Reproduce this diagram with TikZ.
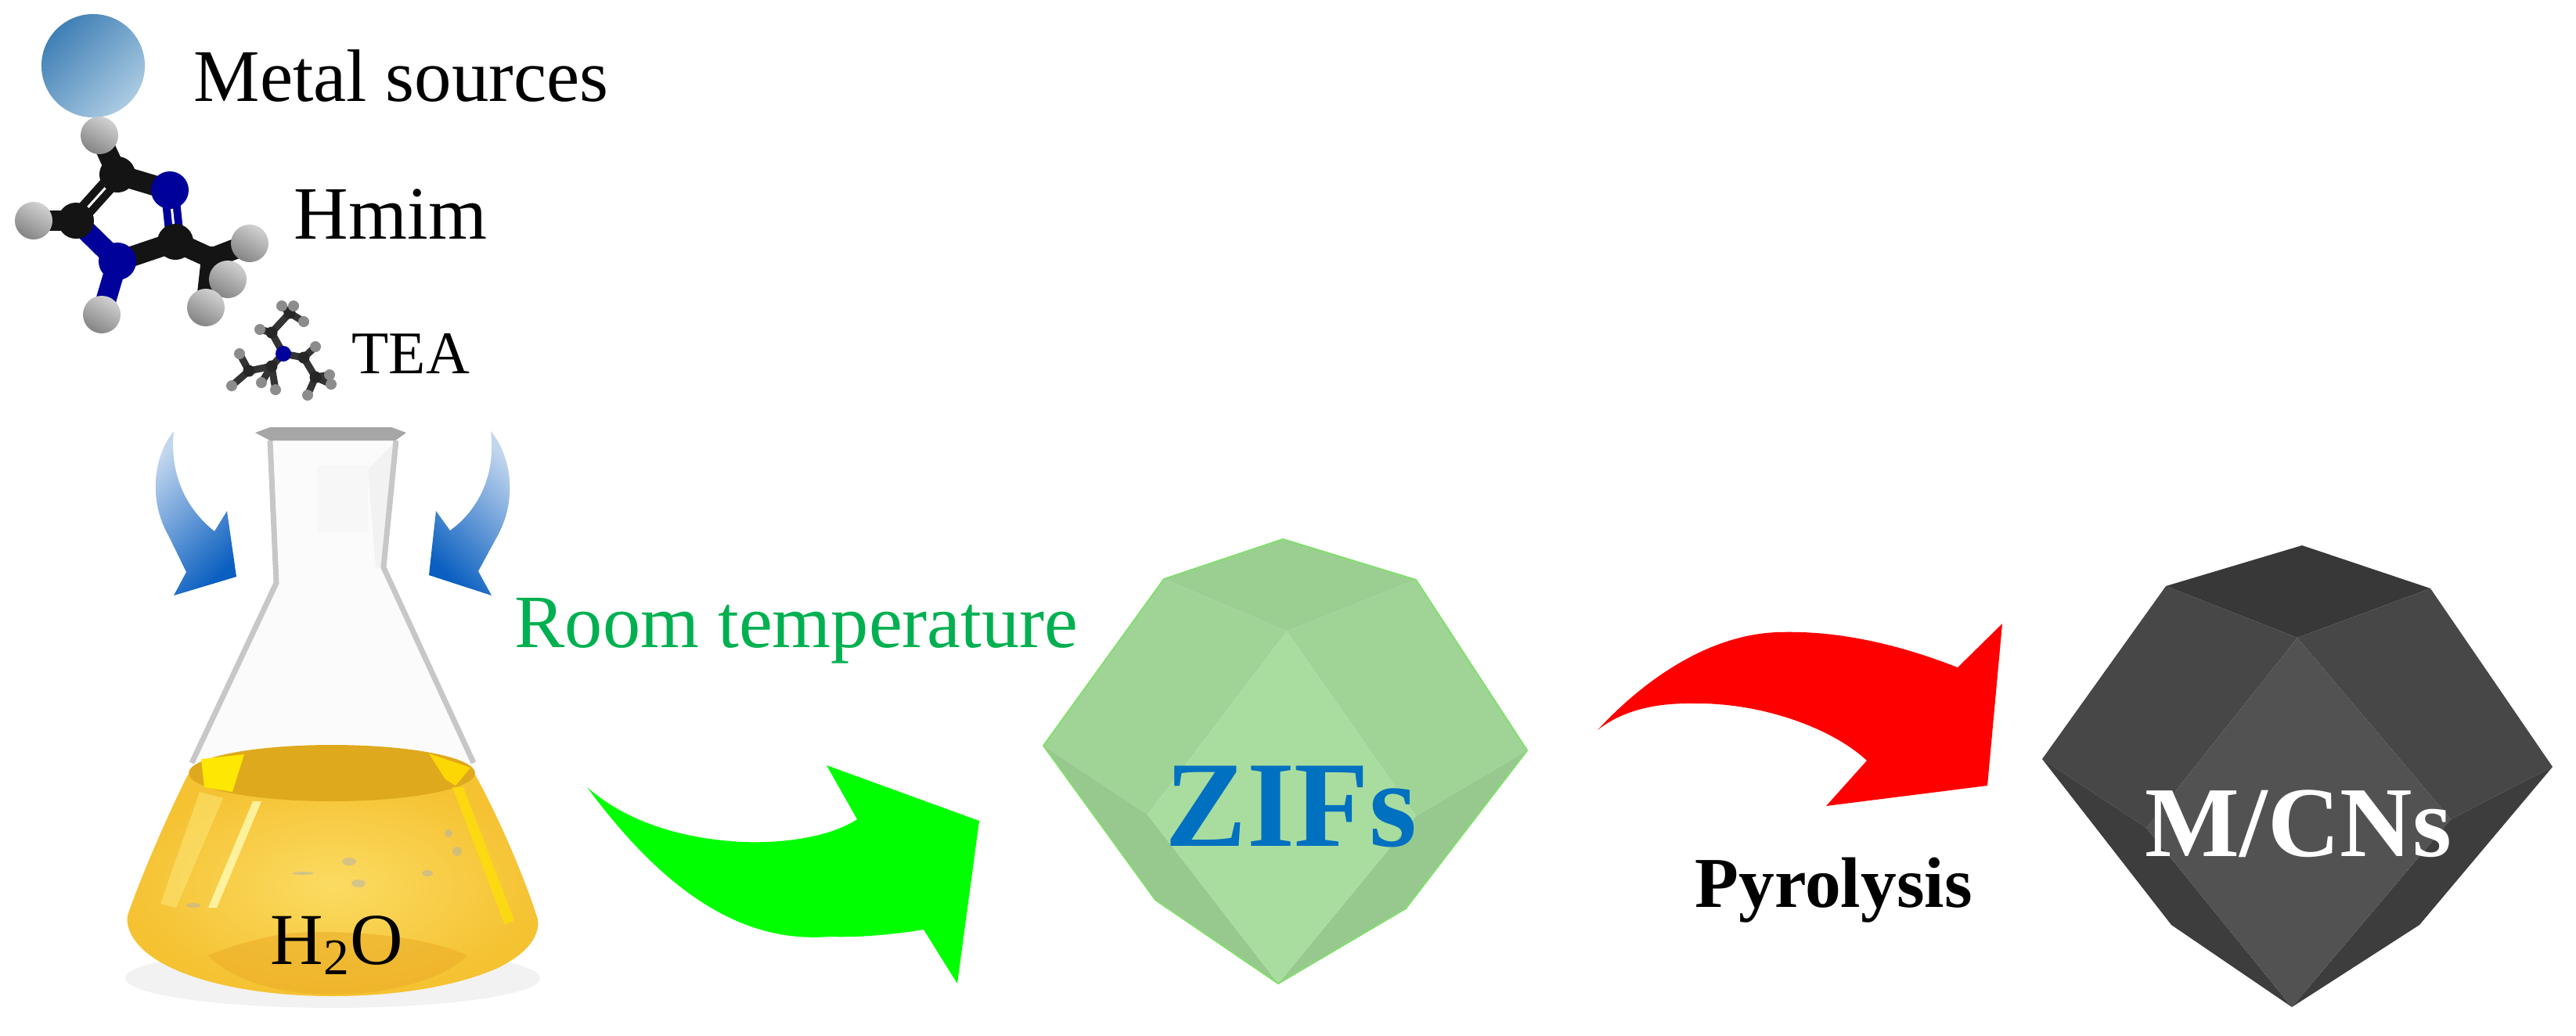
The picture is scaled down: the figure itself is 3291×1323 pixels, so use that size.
\documentclass[tikz,border=0pt]{standalone}
\usepackage{fontspec}
\setmainfont{Liberation Serif}
\usetikzlibrary{positioning,arrows,backgrounds}
\definecolor{roomgreen}{HTML}{00B050}
\definecolor{zifblue}{HTML}{0070C0}
\definecolor{nblue}{HTML}{00009A}
\definecolor{balldark}{HTML}{3F7FB5}
\definecolor{ballmid}{HTML}{5C9BD0}
\definecolor{balllight}{HTML}{ABCBE2}
\definecolor{arrowlight}{HTML}{C2D6EE}
\definecolor{arrowmid}{HTML}{7FA8DC}
\definecolor{arrowdark}{HTML}{0A5FC0}
\definecolor{liqedge}{HTML}{F5C232}
\definecolor{liqmid}{HTML}{FBDB62}
\definecolor{liqlow}{HTML}{ECAE28}
\definecolor{liqtop}{HTML}{DFA91E}
\definecolor{ziftop}{HTML}{9BCF92}
\definecolor{zifside}{HTML}{A0D497}
\definecolor{ziflow}{HTML}{97C98E}
\definecolor{zifmid}{HTML}{A9DD9F}
\definecolor{zifedge}{HTML}{84DE70}

\begin{document}
\begin{tikzpicture}[x=0.01cm,y=-0.01cm,
		every node/.style={inner sep=0pt},
		lbl/.style={anchor=base west,font=\fontsize{#1}{#1}\selectfont},
		boldlbl/.style={anchor=base west,font=\fontsize{#1}{#1}\selectfont\bfseries},
		hatom/.style={circle,minimum size=0.48cm,top color=black!18,bottom color=black!48,shading angle=-30},
		catom/.style={circle,minimum size=0.46cm,fill=black!92},
		natom/.style={circle,minimum size=0.48cm,fill=nblue},
		bond/.style={line width=0.26cm,black!92},
		dbond/.style={line width=0.1cm,double=white,double distance=0.03cm},
		thin hatom/.style={circle,minimum size=0.14cm,fill=black!45},
		thin catom/.style={circle,minimum size=0.15cm,fill=black!85},
		thin bond/.style={line width=0.09cm,black!80}]
			\useasboundingbox (0,0) rectangle (3291,1323);

			\node [circle,minimum size=1.32cm,top color=balldark,middle color=ballmid,bottom color=balllight,shading angle=45] (metal) at (119,84) {};
			\node [lbl=27] (metaltxt) at (247,129) {Metal sources};

			\node [catom] (c1) at (150,223) {};
			\node [natom] (n1) at (217,243) {};
			\node [catom] (c2) at (224,309) {};
			\node [natom] (n2) at (150,334) {};
			\node [catom] (c3) at (97,282) {};
			\node [catom,minimum size=0.3cm] (c4) at (270,330) {};
			\node [hatom] (h1) at (127,173) {};
			\node [hatom] (h2) at (43,282) {};
			\node [hatom] (h3) at (130,402) {};
			\node [hatom] (h4) at (319,311) {};
			\node [hatom] (h5) at (291,357) {};
			\node [hatom] (h6) at (263,393) {};
			\begin{scope}[on background layer]
				\draw[bond] (c1.center) -- (h1.center);
				\draw[bond] (c3.center) -- (h2.center);
				\draw[bond,nblue] (n2.center) -- (h3.center);
				\draw[bond] (c4.center) -- (h4.center);
				\draw[bond] (c4.center) -- (h5.center);
				\draw[bond] (c4.center) -- (h6.center);
				\draw[bond] (c2.center) -- (c4.center);
				\draw[bond] (c1.center) -- (n1.center);
				\draw[bond] (c2.center) -- (n2.center);
				\draw[bond,nblue] (n2.center) -- (c3.center);
				\draw[dbond,black!92] (c1.center) -- (c3.center);
				\draw[dbond,nblue] (n1.center) -- (c2.center);
			\end{scope}
			\node [lbl=27.4] (hmimtxt) at (375,305) {Hmim};

			\node [circle,minimum size=0.2cm,fill=nblue] (tn) at (362,452) {};
			\node [thin catom] (ta1) at (347,425) {};
			\node [thin catom] (ta2) at (370,400) {};
			\node [thin catom] (tb1) at (347,468) {};
			\node [thin catom] (tb2) at (318,474) {};
			\node [thin catom] (td1) at (388,457) {};
			\node [thin catom] (td2) at (403,482) {};
			\node [thin hatom] (th1) at (360,391) {};
			\node [thin hatom] (th2) at (375,391) {};
			\node [thin hatom] (th3) at (388,411) {};
			\node [thin hatom] (th4) at (332,421) {};
			\node [thin hatom] (th5) at (306,452) {};
			\node [thin hatom] (th6) at (296,493) {};
			\node [thin hatom] (th7) at (334,489) {};
			\node [thin hatom] (th8) at (352,498) {};
			\node [thin hatom] (th9) at (403,443) {};
			\node [thin hatom] (th10) at (421,479) {};
			\node [thin hatom] (th11) at (393,505) {};
			\node [thin hatom] (th12) at (423,491) {};
			\begin{scope}[on background layer]
				\draw[thin bond] (tn.center) -- (ta1.center);
				\draw[thin bond] (ta1.center) -- (ta2.center);
				\draw[thin bond] (tn.center) -- (tb1.center);
				\draw[thin bond] (tb1.center) -- (tb2.center);
				\draw[thin bond] (tn.center) -- (td1.center);
				\draw[thin bond] (td1.center) -- (td2.center);
				\draw[thin bond] (ta2.center) -- (th1.center);
				\draw[thin bond] (ta2.center) -- (th2.center);
				\draw[thin bond] (ta2.center) -- (th3.center);
				\draw[thin bond] (ta1.center) -- (th4.center);
				\draw[thin bond] (tb2.center) -- (th5.center);
				\draw[thin bond] (tb2.center) -- (th6.center);
				\draw[thin bond] (tb1.center) -- (th7.center);
				\draw[thin bond] (tb1.center) -- (th8.center);
				\draw[thin bond] (td1.center) -- (th9.center);
				\draw[thin bond] (td2.center) -- (th10.center);
				\draw[thin bond] (td2.center) -- (th11.center);
				\draw[thin bond] (td2.center) -- (th12.center);
			\end{scope}
			\node [lbl=22] (teatxt) at (449,477) {TEA};

			\shade[top color=arrowlight,middle color=arrowmid,bottom color=arrowdark,shading angle=45] (222,551) .. controls (195,585) and (190,640) .. (215,684) -- (238,731) -- (222,761) -- (302,737) -- (290,653) -- (274,679) .. controls (250,660) and (215,620) .. (222,551) -- cycle;
			\shade[top color=arrowlight,middle color=arrowmid,bottom color=arrowdark,shading angle=-45] (627,551) .. controls (655,585) and (660,640) .. (636,684) -- (611,730) -- (628,761) -- (548,735) -- (557,653) -- (575,678) .. controls (600,660) and (635,620) .. (627,551) -- cycle;

			\fill[black!5] (425,1250) ellipse [x radius=265,y radius=38];
			\fill[black!1.5] (345,563) -- (353,745) -- (245,975) -- (605,975) -- (490,725) -- (506,563) -- cycle;
			\fill[black!5] (470,600) -- (506,563) -- (490,725) -- (480,725) -- cycle;
			\fill[black!3] (405,595) rectangle (470,680);
			\draw[black!22,line width=0.07cm] (345,563) -- (353,745) -- (245,975);
			\draw[black!22,line width=0.07cm] (506,563) -- (490,725) -- (605,975);
			\shade[left color=black!35,middle color=black!6,right color=black!35] (326,553) -- (345,546) -- (500,546) -- (519,553) -- (505,563) -- (345,563) -- cycle;

			\shade[inner color=liqmid,outer color=liqedge] (240,990) .. controls (215,1040) and (180,1120) .. (163,1170) .. controls (160,1190) and (175,1215) .. (215,1235) .. controls (270,1262) and (350,1273) .. (425,1273) .. controls (500,1273) and (580,1262) .. (636,1237) .. controls (675,1218) and (690,1195) .. (687,1175) .. controls (670,1120) and (635,1040) .. (607,990) -- cycle;
			\fill[liqlow,opacity=.6] (265,1221) .. controls (320,1200) and (360,1191) .. (406,1191) .. controls (480,1191) and (550,1200) .. (597,1221) .. controls (560,1258) and (480,1271) .. (425,1271) .. controls (360,1271) and (300,1255) .. (265,1221) -- cycle;
			\fill[liqtop] (424,988) ellipse [x radius=183,y radius=36];
			\fill[yellow!90!orange] (257,970) -- (312,964) -- (297,1012) -- (261,1006) -- cycle;
			\fill[yellow!75!orange] (548,963) -- (601,981) -- (582,1004) -- (569,996) -- cycle;
			\fill[yellow!30!white,opacity=.8] (323,1024) -- (334,1024) -- (277,1160) -- (266,1160) -- cycle;
			\fill[yellow!40!white,opacity=.35] (255,1012) -- (285,1020) -- (225,1160) -- (205,1155) -- cycle;
			\fill[yellow!85!orange,opacity=.7] (578,1006) -- (592,1006) -- (657,1176) -- (645,1182) -- cycle;
			\fill[black!30,opacity=.5] (446,1101) ellipse [x radius=9,y radius=5];
			\fill[black!30,opacity=.5] (458,1129) ellipse [x radius=9,y radius=5];
			\fill[black!30,opacity=.5] (546,1116) ellipse [x radius=7,y radius=4];
			\fill[black!30,opacity=.5] (584,1088) ellipse [x radius=6,y radius=6];
			\fill[black!30,opacity=.5] (573,1065) ellipse [x radius=5,y radius=5];
			\fill[black!30,opacity=.5] (247,1157) ellipse [x radius=9,y radius=3];
			\fill[black!30,opacity=.5] (387,1116) ellipse [x radius=14,y radius=2];
			\node [lbl=26.6] (watertxt) at (345,1232) {H\textsubscript{2}O};

			\node [lbl=27.4,text=roomgreen] (roomtxt) at (657,827) {Room temperature};
			\fill[green] (750,1006) .. controls (800,1050) and (870,1072) .. (949,1076) .. controls (1000,1078) and (1060,1070) .. (1095,1047) -- (1056,978) -- (1251,1049) -- (1223,1257) -- (1180,1188) .. controls (1130,1196) and (1090,1198) .. (1060,1197) .. controls (960,1205) and (860,1155) .. (750,1006) -- cycle;

			\coordinate (zt) at (1639,689);
			\coordinate (zur) at (1809,741);
			\coordinate (zul) at (1487,740);
			\coordinate (zl) at (1333,953);
			\coordinate (zr) at (1951,959);
			\coordinate (zll) at (1476,1150);
			\coordinate (zlr) at (1796,1161);
			\coordinate (zb) at (1633,1257);
			\coordinate (zc) at (1644,807);
			\coordinate (zdl) at (1466,1041);
			\coordinate (zdr) at (1809,1043);
			\fill[ziftop] (zt) -- (zur) -- (zc) -- (zul) -- cycle;
			\fill[zifside] (zul) -- (zc) -- (zdl) -- (zl) -- cycle;
			\fill[zifside] (zur) -- (zc) -- (zdr) -- (zr) -- cycle;
			\fill[ziflow] (zl) -- (zdl) -- (zb) -- (zll) -- cycle;
			\fill[ziflow] (zr) -- (zdr) -- (zb) -- (zlr) -- cycle;
			\fill[zifmid] (zc) -- (zdr) -- (zb) -- (zdl) -- cycle;
			\draw[zifedge,line width=0.02cm] (zt) -- (zur) -- (zr) -- (zlr) -- (zb) -- (zll) -- (zl) -- (zul) -- cycle;
			\node [boldlbl=44.5,text=zifblue] (ziftxt) at (1488,1081) {ZIFs};

			\fill[red] (2041,933) .. controls (2085,885) and (2170,812) .. (2270,808) .. controls (2350,805) and (2430,825) .. (2501,853) -- (2558,797) -- (2539,1004) -- (2333,1030) -- (2385,972) .. controls (2340,930) and (2250,898) .. (2165,899) .. controls (2110,898) and (2070,910) .. (2041,933) -- cycle;
			\node [boldlbl=26] (pyrotxt) at (2165,1159) {Pyrolysis};

			\coordinate (mt) at (2941,697);
			\coordinate (mur) at (3105,752);
			\coordinate (mul) at (2767,749);
			\coordinate (ml) at (2609,970);
			\coordinate (mr) at (3261,980);
			\coordinate (mll) at (2774,1182);
			\coordinate (mlr) at (3091,1182);
			\coordinate (mb) at (2928,1287);
			\coordinate (mc) at (2935,815);
			\coordinate (mdl) at (2742,1058);
			\coordinate (mdr) at (3131,1047);
			\fill[black!78] (mt) -- (mur) -- (mc) -- (mul) -- cycle;
			\fill[black!72] (mul) -- (mc) -- (mdl) -- (ml) -- cycle;
			\fill[black!72] (mur) -- (mc) -- (mdr) -- (mr) -- cycle;
			\fill[black!76] (ml) -- (mdl) -- (mb) -- (mll) -- cycle;
			\fill[black!76] (mr) -- (mdr) -- (mb) -- (mlr) -- cycle;
			\fill[black!68] (mc) -- (mdr) -- (mb) -- (mdl) -- cycle;
			\node [boldlbl=36.4,text=white] (mcntxt) at (2740,1094) {M/CNs};
		\end{tikzpicture}
\end{document}
